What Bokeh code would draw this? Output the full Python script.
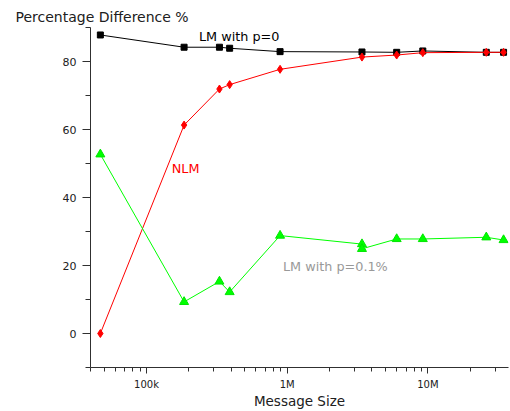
from bokeh.plotting import figure
from bokeh.models import Range1d, FixedTicker, CustomJSTickFormatter, Label
from bokeh.embed import file_html
from bokeh.resources import INLINE

# Data
sizes = [47e3, 185e3, 330e3, 390e3, 890e3, 3.4e6, 6.0e6, 9.2e6, 26e6, 34.5e6]
lm_p0 = [87.8, 84.2, 84.2, 83.9, 82.9, 82.8, 82.7, 83.1, 82.7, 82.7]
nlm = [0.0, 61.3, 71.9, 73.2, 77.7, 81.3, 81.9, 82.6, 82.7, 82.7]
sizes_g = [47e3, 185e3, 330e3, 390e3, 890e3, 3.4e6, 3.4e6, 6.0e6, 9.2e6, 26e6, 34.5e6]
lm_p01 = [52.7, 9.3, 15.3, 12.2, 28.8, 26.3, 24.9, 27.8, 27.8, 28.3, 27.5]

x_major = [1e5, 1e6, 1e7]
x_minor = [4e4, 5e4, 6e4, 7e4, 8e4, 9e4,
           2e5, 3e5, 4e5, 5e5, 6e5, 7e5, 8e5, 9e5,
           2e6, 3e6, 4e6, 5e6, 6e6, 7e6, 8e6, 9e6,
           2e7, 3e7]
y_major = [0, 20, 40, 60, 80]
y_minor = [-10, 10, 30, 50, 70, 90]

FONT = "DejaVu Sans"
AX = "#303030"

p = figure(width=510, height=411, x_axis_type="log",
           x_range=Range1d(40e3, 37.4e6), y_range=Range1d(-10, 90),
           output_backend="svg", toolbar_location=None,
           min_border_left=90, min_border_right=2,
           min_border_top=27, min_border_bottom=44)
p.outline_line_color = None
p.xgrid.visible = False
p.ygrid.visible = False

p.title.text = "Percentage Difference %"
p.title.text_font = FONT
p.title.text_font_size = "14px"
p.title.text_font_style = "normal"
p.title.text_color = "#202020"
p.title.align = "left"
p.title.offset = -75
p.title.standoff = 6

# Axes
p.xaxis.ticker = FixedTicker(ticks=x_major, minor_ticks=x_minor)
p.xaxis.formatter = CustomJSTickFormatter(code="""
const m = {100000: "100k", 1000000: "1M", 10000000: "10M"};
return m[Math.round(tick)] || "";
""")
p.yaxis.ticker = FixedTicker(ticks=y_major, minor_ticks=y_minor)

for ax in (p.xaxis, p.yaxis):
    ax.axis_line_color = AX
    ax.major_tick_line_color = AX
    ax.minor_tick_line_color = AX
    ax.major_tick_in = 0
    ax.minor_tick_in = 0
    ax.major_label_text_font = FONT
    ax.major_label_text_color = "#202020"
    ax.axis_label_text_font = FONT
    ax.axis_label_text_font_style = "normal"
    ax.axis_label_text_color = "#202020"

p.xaxis.major_tick_out = 6
p.xaxis.minor_tick_out = 4
p.xaxis.major_label_text_font_size = "10px"
p.xaxis.major_label_standoff = 5
p.xaxis.axis_label = "Message Size"
p.xaxis.axis_label_text_font_size = "13.5px"
p.xaxis.axis_label_standoff = 0

p.yaxis.major_tick_out = 8
p.yaxis.minor_tick_out = 5
p.yaxis.major_label_text_font_size = "11px"
p.yaxis.major_label_standoff = 6

# Series
p.line(sizes, lm_p0, line_color="black", line_width=1)
p.scatter(sizes, lm_p0, marker="square", size=6, fill_color="black", line_color="black")

p.line(sizes, nlm, line_color="#ff0000", line_width=1)
p.scatter(sizes, nlm, marker="diamond", size=8, fill_color="#ff0000", line_color="#ff0000")

p.line(sizes_g, lm_p01, line_color="#00ff00", line_width=1)
p.scatter(sizes_g, lm_p01, marker="triangle", size=9, fill_color="#00ff00", line_color="#00e600")

# In-plot labels
p.add_layout(Label(x=236e3, y=87.3, text="LM with p=0", text_font=FONT, text_font_size="12.8px",
                   text_color="black", text_baseline="middle", text_align="left"))
p.add_layout(Label(x=151e3, y=48.4, text="NLM", text_font=FONT, text_font_size="12.8px",
                   text_color="#ff0000", text_baseline="middle", text_align="left"))
p.add_layout(Label(x=933e3, y=19.7, text="LM with p=0.1%", text_font=FONT, text_font_size="12.8px",
                   text_color="#999999", text_baseline="middle", text_align="left"))

open("out.html", "w").write(file_html(p, INLINE))
